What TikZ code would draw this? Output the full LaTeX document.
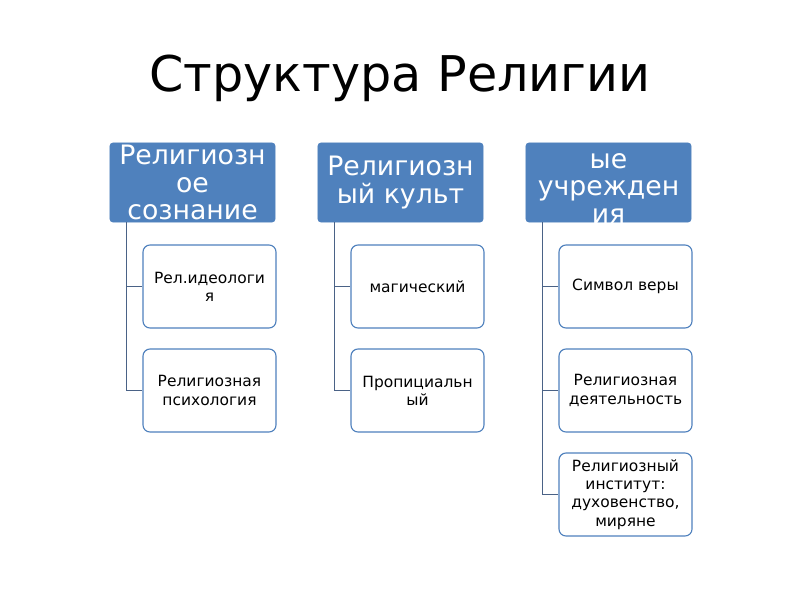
\documentclass[tikz,border=0pt]{standalone}
\usepackage{fontspec}
\setmainfont{DejaVu Sans}
\usetikzlibrary{positioning}
\definecolor{hdrblue}{HTML}{4F81BD}
\definecolor{linkblue}{HTML}{4A6286}
\tikzset{
  hdr/.style={fill=hdrblue, draw=hdrblue, rounded corners=2pt, text=white,
    minimum width=4.125cm, minimum height=1.975cm, align=center,
    font=\fontsize{19}{19.6}\selectfont, inner sep=0pt},
  item/.style={fill=white, draw=hdrblue, line width=0.8pt, rounded corners=5pt,
    minimum width=3.325cm, minimum height=2.075cm, align=center,
    font=\fontsize{11}{13}\selectfont, inner sep=0pt},
  link/.style={draw=linkblue, line width=1pt}
}
\begin{document}
\begin{tikzpicture}[x=0.025cm, y=-0.025cm]
\useasboundingbox (0,0) rectangle (800,600);

% title
\node (title) at (400,78) {\fontsize{35}{40}\selectfont Структура Религии};

% headers
\node[hdr] (h1) at (192.5,182.5) {Религиозн\\ое\\сознание};
\node[hdr] (h2) at (400.5,182.5) {Религиозн\\ый культ};
\node[hdr] (h3) at (608.5,182.5)
  {\smash{\begin{tabular}{@{}c@{}}Религиозн\\ые\\учрежден\\ия\end{tabular}}};

% column 1
\node[item] (c11) at (209.5,286.5) {Рел.идеологи\\я};
\node[item] (c12) at (209.5,390.5) {Религиозная\\психология};
% column 2
\node[item] (c21) at (417.5,286.5) {магический};
\node[item] (c22) at (417.5,390.5) {Пропициальн\\ый};
% column 3
\node[item] (c31) at (625.5,286.5) {Символ веры};
\node[item] (c32) at (625.5,390.5) {Религиозная\\деятельность};
\node[item] (c33) at (625.5,494.5) {Религиозный\\институт:\\духовенство,\\миряне};

% connectors
\coordinate (s1) at ([xshift=0.425cm]h1.south west);
\coordinate (s2) at ([xshift=0.425cm]h2.south west);
\coordinate (s3) at ([xshift=0.425cm]h3.south west);
\draw[link] (s1) |- (c11.west);
\draw[link] (s1) |- (c12.west);
\draw[link] (s2) |- (c21.west);
\draw[link] (s2) |- (c22.west);
\draw[link] (s3) |- (c31.west);
\draw[link] (s3) |- (c32.west);
\draw[link] (s3) |- (c33.west);
\end{tikzpicture}
\end{document}
